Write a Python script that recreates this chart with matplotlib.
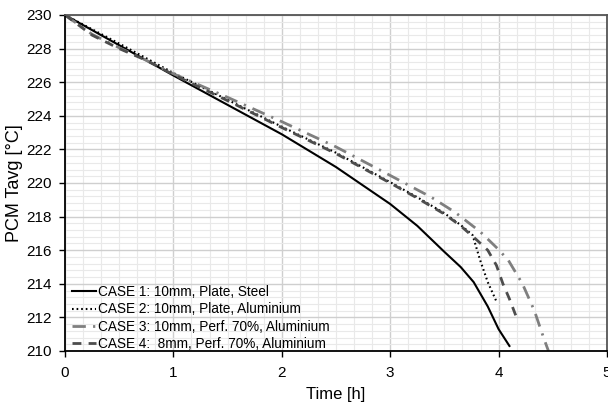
import matplotlib
matplotlib.use("Agg")
import matplotlib.pyplot as plt
from matplotlib.ticker import MultipleLocator

plt.rcParams['font.family'] = ['Liberation Sans', 'DejaVu Sans']

# Data
t_case1 = [0, 0.5, 1, 1.5, 2, 2.5, 3, 3.25, 3.5, 3.65, 3.77, 3.9, 4.0, 4.1]
T_case1 = [230, 228.2, 226.4, 224.65, 222.9, 220.95, 218.75, 217.45, 215.9, 215.0, 214.1, 212.65, 211.3, 210.3]

t_case2 = [0, 0.5, 1, 1.5, 2, 2.5, 3, 3.25, 3.5, 3.65, 3.76, 3.83, 3.9, 3.98]
T_case2 = [230, 228.3, 226.55, 224.95, 223.35, 221.8, 220.05, 219.15, 218.2, 217.5, 216.9, 215.4, 214.1, 212.95]

t_case3 = [0, 0.25, 0.5, 0.75, 1, 1.5, 2, 2.5, 3, 3.38, 3.6, 3.83, 3.99, 4.09, 4.22, 4.33, 4.42, 4.46]
T_case3 = [230, 228.85, 228.05, 227.3, 226.5, 225.1, 223.65, 222.15, 220.45, 219.15, 218.25, 217.1, 216.1, 215.4, 214.0, 212.4, 210.7, 210.0]

t_case4 = [0, 0.25, 0.5, 0.75, 1, 1.5, 2, 2.5, 3, 3.25, 3.5, 3.65, 3.8, 3.9, 3.98, 4.04, 4.1, 4.18]
T_case4 = [230, 228.8, 228.0, 227.3, 226.45, 224.9, 223.3, 221.75, 220.0, 219.1, 218.15, 217.45, 216.6, 216.0, 215.1, 214.0, 213.1, 211.75]

labels = ["CASE 1: 10mm, Plate, Steel",
          "CASE 2: 10mm, Plate, Aluminium",
          "CASE 3: 10mm, Perf. 70%, Aluminium",
          "CASE 4:  8mm, Perf. 70%, Aluminium"]

fig = plt.figure(figsize=(6.08, 4.04), dpi=100)
ax = fig.add_axes([65/608, 1-351/404, (607-65)/608, (351-15)/404])

ax.plot(t_case1, T_case1, color='black', lw=1.5, label=labels[0])
ax.plot(t_case2, T_case2, color='black', lw=1.5, dashes=(0.8, 1.4), label=labels[1])
ax.plot(t_case3, T_case3, color='#7f7f7f', lw=2.0, dashes=(4.8, 2.6, 0.8, 2.6), label=labels[2])
ax.plot(t_case4, T_case4, color='#4d4d4d', lw=2.0, dashes=(3.2, 2.6), label=labels[3])

ax.set_xlim(0, 5)
ax.set_ylim(210, 230)
ax.xaxis.set_major_locator(MultipleLocator(1))
ax.xaxis.set_minor_locator(MultipleLocator(1/6))
ax.yaxis.set_major_locator(MultipleLocator(2))
ax.yaxis.set_minor_locator(MultipleLocator(0.4))

ax.grid(which='major', color='#cfcfcf', lw=1.0)
ax.grid(which='minor', color='#e9e9e9', lw=0.8)
ax.set_axisbelow(True)

ax.tick_params(which='major', direction='out', length=4, width=1, labelsize=11, colors='black')
ax.tick_params(which='minor', length=0)
ax.tick_params(axis='x', pad=7)
ax.tick_params(axis='y', pad=5.5)

for side in ['left', 'bottom']:
    ax.spines[side].set_color('black')
    ax.spines[side].set_linewidth(1.3)
for side in ['top', 'right']:
    ax.spines[side].set_color('#555555')
    ax.spines[side].set_linewidth(1.3)

ax.set_xlabel("Time [h]", fontsize=12, labelpad=5)
ax.set_ylabel("PCM Tavg [°C]", fontsize=13, labelpad=2.5)

leg = ax.legend(loc='lower left', bbox_to_anchor=(0.013, 0.0), frameon=False, fontsize=9.8,
                handlelength=1.75, handletextpad=0.15, labelspacing=0.24,
                borderaxespad=0.0, borderpad=0.0)

fig.savefig("out.png", dpi=100)
